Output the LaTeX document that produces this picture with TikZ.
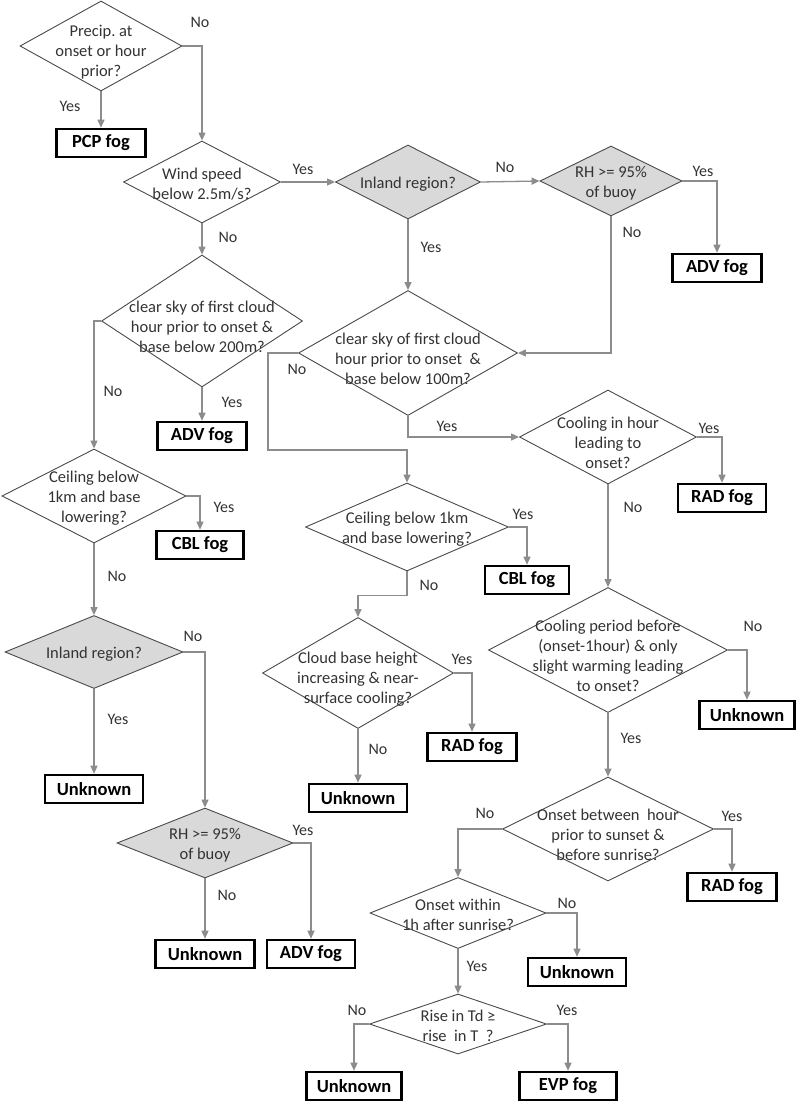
\documentclass[tikz,border=0pt]{standalone}
\usepackage{fontspec}
\setmainfont{Carlito}
\usepackage{xcolor}
\usetikzlibrary{arrows.meta,shapes.geometric}
\definecolor{edgegray}{HTML}{8C8C8C}
\definecolor{rimgray}{HTML}{4A4A4A}
\definecolor{shade}{HTML}{D9D9D9}
\definecolor{ink}{HTML}{333333}
\frenchspacing

\begin{document}
\begin{tikzpicture}[x=1pt,y=-1pt,
    test/.style={diamond,draw=rimgray,line width=0.9pt,fill=white,inner sep=0pt},
    testg/.style={test,fill=shade},
    qtxt/.style={align=center,text=ink,font=\fontsize{16.5}{19.8}\selectfont,yshift=-2pt},
    qlow/.style={qtxt,yshift=-4pt},
    result/.style={draw=black,line width=2.6pt,inner sep=0pt,minimum height=28,font=\fontsize{18.5}{20}\selectfont\bfseries},
    conn/.style={draw=edgegray,line width=1.3pt,-{Triangle[length=8pt,width=7pt]}},
    ans/.style={text=ink,font=\fontsize{16}{19}\selectfont}]
  \useasboundingbox[fill=white] (0,0) rectangle (800,1102);
  % decisions
  \node[test,minimum width=162,minimum height=90,label={[qlow]center:Precip. at\\onset or hour\\prior?}] (precip) at (101,46) {};
  \node[test,minimum width=157,minimum height=82,label={[qtxt]center:Wind speed\\below 2.5m/s?}] (wind) at (202,182) {};
  \node[testg,minimum width=145,minimum height=74,label={[qtxt]center:Inland region?}] (inland) at (408,182) {};
  \node[testg,minimum width=142,minimum height=70,label={[qtxt]center:RH >= 95\%\\of buoy}] (rhtop) at (611,181) {};
  \node[test,minimum width=201,minimum height=132,label={[qlow]center:clear sky of first cloud\\hour prior to onset \&\\base below 200m?}] (clear200) at (202,321) {};
  \node[test,minimum width=219,minimum height=125,label={[qlow]center:clear sky of first cloud\\hour prior to onset \ \&\\base below 100m?}] (clear100) at (408,353) {};
  \node[test,minimum width=184,minimum height=94,label={[qtxt]center:Ceiling below\\1km and base\\lowering?}] (ceil1) at (94,496) {};
  \node[test,minimum width=177,minimum height=94,label={[qlow]center:Cooling in hour\\leading to\\onset?}] (cool) at (608,437) {};
  \node[test,minimum width=203,minimum height=88,label={[qtxt]center:Ceiling below 1km\\and base lowering?}] (ceil2) at (407,527) {};
  \node[testg,minimum width=178,minimum height=73,label={[qtxt]center:Inland region?}] (inland2) at (94,652) {};
  \node[test,minimum width=191,minimum height=111,label={[qlow]center:Cloud base height\\increasing \& near-\\surface cooling?}] (cloud) at (358,673) {};
  \node[test,minimum width=239,minimum height=125,label={[qlow]center:Cooling period before\\(onset-1hour) \& only\\slight warming leading\\to onset?}] (coolp) at (608,650) {};
  \node[testg,minimum width=176,minimum height=70,label={[qtxt]center:RH >= 95\%\\of buoy}] (rh2) at (205,843) {};
  \node[test,minimum width=211,minimum height=104,label={[qlow]center:Onset between \ hour\\prior to sunset \&\\before sunrise?}] (onset) at (608,829) {};
  \node[test,minimum width=176,minimum height=71,label={[qtxt]center:Onset within\\1h after sunrise?}] (within) at (458,913) {};
  \node[test,minimum width=177,minimum height=60,label={[qtxt]center:Rise in Td ≥\\rise \ in T \ ?}] (rise) at (458,1024) {};
  % outcomes
  \node[result,minimum width=89] (pcp) at (101,143) {PCP fog};
  \node[result,minimum width=89] (adv1) at (717,268) {ADV fog};
  \node[result,minimum width=89] (adv2) at (202,436) {ADV fog};
  \node[result,minimum width=87] (cbl1) at (200,545) {CBL fog};
  \node[result,minimum width=98] (unk1) at (94,789) {Unknown};
  \node[result,minimum width=88] (rad1) at (722,498) {RAD fog};
  \node[result,minimum width=84] (cbl2) at (527,580) {CBL fog};
  \node[result,minimum width=89] (rad2) at (472,747) {RAD fog};
  \node[result,minimum width=98] (unk3) at (358,798) {Unknown};
  \node[result,minimum width=95] (unk4) at (747,715) {Unknown};
  \node[result,minimum width=89] (rad3) at (732,887) {RAD fog};
  \node[result,minimum width=99] (unk2) at (205,954) {Unknown};
  \node[result,minimum width=88] (adv3) at (311,954) {ADV fog};
  \node[result,minimum width=98] (unk5) at (577,972) {Unknown};
  \node[result,minimum width=97] (evp) at (568,1086) {EVP fog};
  \node[result,minimum width=95] (unk6) at (354,1086) {Unknown};
  \coordinate (turnA) at (268,450);
  % connectors
  \draw[conn] (precip.south) -- (pcp.north);
  \draw[conn] (precip.east) -| (wind.north);
  \draw[conn] (wind.east) -- (inland.west);
  \draw[conn] (wind.south) -- (clear200.north);
  \draw[conn] (inland.east) -- (rhtop.west);
  \draw[conn] (inland.south) -- (clear100.north);
  \draw[conn] (rhtop.east) -| (adv1.north);
  \draw[conn] (rhtop.south) |- (clear100.east);
  \draw[conn] (clear200.south) -- (adv2.north);
  \draw[conn] (clear200.west) -| (ceil1.north);
  \draw[conn] (clear100.west) -| (turnA) -| (ceil2.north);
  \draw[conn] (clear100.south) |- (cool.west);
  \draw[conn] (cool.east) -| (rad1.north);
  \draw[conn] (cool.south) -- (coolp.north);
  \draw[conn] (ceil1.east) -| (cbl1.north);
  \draw[conn] (ceil1.south) -- (inland2.north);
  \draw[conn] (ceil2.east) -| (cbl2.north);
  \draw[conn] (ceil2.south) -- ++(0,24) -| (cloud.north);
  \draw[conn] (inland2.east) -| (rh2.north);
  \draw[conn] (inland2.south) -- (unk1.north);
  \draw[conn] (cloud.east) -| (rad2.north);
  \draw[conn] (cloud.south) -- (unk3.north);
  \draw[conn] (coolp.east) -| (unk4.north);
  \draw[conn] (coolp.south) -- (onset.north);
  \draw[conn] (rh2.east) -| (adv3.north);
  \draw[conn] (rh2.south) -- (unk2.north);
  \draw[conn] (onset.east) -| (rad3.north);
  \draw[conn] (onset.west) -| (within.north);
  \draw[conn] (within.east) -| (unk5.north);
  \draw[conn] (within.south) -- (rise.north);
  \draw[conn] (rise.east) -| (evp.north);
  \draw[conn] (rise.west) -| (unk6.north);
  % answers
  \node[ans] (nPrecip) at (200,22) {No};
  \node[ans] (yPrecip) at (70,106) {Yes};
  \node[ans] (yWind) at (303,169) {Yes};
  \node[ans] (nWind) at (228,237) {No};
  \node[ans] (nInland) at (505,167) {No};
  \node[ans] (yInland) at (431,247) {Yes};
  \node[ans] (yRhTop) at (703,171) {Yes};
  \node[ans] (nRhTop) at (632,232) {No};
  \node[ans] (nClear200) at (113,391) {No};
  \node[ans] (yClear200) at (232,402) {Yes};
  \node[ans] (nClear100) at (297,369) {No};
  \node[ans] (yClear100) at (447,426) {Yes};
  \node[ans] (yCool) at (709,428) {Yes};
  \node[ans] (nCool) at (633,507) {No};
  \node[ans] (yCeil1) at (224,507) {Yes};
  \node[ans] (nCeil1) at (117,576) {No};
  \node[ans] (yCeil2) at (523,514) {Yes};
  \node[ans] (nCeil2) at (429,585) {No};
  \node[ans] (nInland2) at (193,636) {No};
  \node[ans] (yInland2) at (118,719) {Yes};
  \node[ans] (yCloud) at (462,659) {Yes};
  \node[ans] (nCloud) at (378,749) {No};
  \node[ans] (nCoolp) at (753,626) {No};
  \node[ans] (yCoolp) at (631,738) {Yes};
  \node[ans] (yRh2) at (303,830) {Yes};
  \node[ans] (nRh2) at (227,895) {No};
  \node[ans] (nOnset) at (485,813) {No};
  \node[ans] (yOnset) at (732,816) {Yes};
  \node[ans] (nWithin) at (567,903) {No};
  \node[ans] (yWithin) at (477,966) {Yes};
  \node[ans] (nRise) at (357,1010) {No};
  \node[ans] (yRise) at (567,1010) {Yes};
\end{tikzpicture}
\end{document}
